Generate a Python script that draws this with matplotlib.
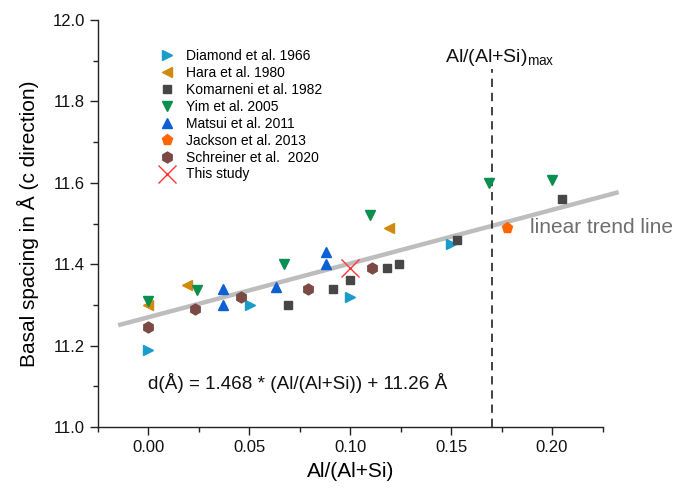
import matplotlib
matplotlib.use("Agg")
import matplotlib.pyplot as plt
from matplotlib.ticker import MultipleLocator

plt.rcParams['font.family'] = ['Liberation Sans', 'DejaVu Sans']

# ---- data ----
diamond_x = [0.0, 0.0505, 0.100, 0.150]
diamond_y = [11.19, 11.30, 11.32, 11.45]

hara_x = [0.0, 0.019, 0.119]
hara_y = [11.30, 11.35, 11.49]

komarneni_x = [0.069, 0.0915, 0.100, 0.118, 0.124, 0.153, 0.205]
komarneni_y = [11.30, 11.34, 11.36, 11.39, 11.40, 11.46, 11.56]

yim_x = [0.0, 0.024, 0.067, 0.110, 0.169, 0.200]
yim_y = [11.31, 11.337, 11.40, 11.52, 11.60, 11.607]

matsui_x = [0.037, 0.037, 0.063, 0.088, 0.088]
matsui_y = [11.34, 11.30, 11.344, 11.43, 11.40]

jackson_x = [0.1775]
jackson_y = [11.49]

schreiner_x = [0.0, 0.023, 0.046, 0.079, 0.111]
schreiner_y = [11.245, 11.29, 11.32, 11.34, 11.39]

study_x = [0.100]
study_y = [11.39]

trend_x = [-0.015, 0.233]
trend_y = [11.25, 11.577]

al_max = 0.17

x_ticks = [0.00, 0.05, 0.10, 0.15, 0.20]
y_ticks = [11.0, 11.2, 11.4, 11.6, 11.8, 12.0]

# ---- figure ----
fig = plt.figure(figsize=(6.88, 4.90), dpi=100)
ax = fig.add_axes([98/688, 1-427/490, 504.5/688, 407/490])

ax.plot(trend_x, trend_y, color='#bdbdbd', lw=3.2, solid_capstyle='butt', zorder=1, clip_on=False)
ax.plot([al_max, al_max], [11.0, 11.88], color='#222222', lw=1.2, ls=(0, (5, 3.5)), zorder=1)

ms_tri = 7.8
h = []
h.append(ax.plot(diamond_x, diamond_y, ls='none', marker='>', ms=ms_tri, color='#1a9ccb', label='Diamond et al. 1966', zorder=3)[0])
h.append(ax.plot(hara_x, hara_y, ls='none', marker='<', ms=ms_tri, color='#d18b0c', label='Hara et al. 1980', zorder=3)[0])
h.append(ax.plot(komarneni_x, komarneni_y, ls='none', marker='s', ms=6.3, color='#474747', label='Komarneni et al. 1982', zorder=3)[0])
h.append(ax.plot(yim_x, yim_y, ls='none', marker='v', ms=ms_tri, color='#0b8f4e', label='Yim et al. 2005', zorder=3)[0])
h.append(ax.plot(matsui_x, matsui_y, ls='none', marker='^', ms=ms_tri, color='#0d5fd4', label='Matsui et al. 2011', zorder=3)[0])
h.append(ax.plot(jackson_x, jackson_y, ls='none', marker='p', ms=8, color='#ff6600', label='Jackson et al. 2013', zorder=3)[0])
h.append(ax.plot(schreiner_x, schreiner_y, ls='none', marker='h', ms=7.8, color='#7b4a45', label='Schreiner et al.  2020', zorder=3)[0])
h.append(ax.plot(study_x, study_y, ls='none', marker='x', ms=13, mew=1.0, color='#ff3535', label='This study', zorder=4)[0])

ax.set_xlim(-0.025, 0.225)
ax.set_ylim(11.0, 12.0)
ax.set_xticks(x_ticks)
ax.set_xticklabels([f"{v:.2f}" for v in x_ticks])
ax.set_yticks(y_ticks)
ax.set_yticklabels([f"{v:.1f}" for v in y_ticks])
ax.xaxis.set_minor_locator(MultipleLocator(0.025))
ax.yaxis.set_minor_locator(MultipleLocator(0.1))
ax.tick_params(which='major', length=6, width=1, labelsize=12, color='#222222', labelcolor='#111111')
ax.tick_params(which='minor', length=3.5, width=1, color='#222222')
for s in ['top', 'right']:
    ax.spines[s].set_visible(False)
for s in ['left', 'bottom']:
    ax.spines[s].set_color('#222222')
    ax.spines[s].set_linewidth(1.0)

ax.set_xlabel('Al/(Al+Si)', fontsize=15, labelpad=5)
ax.set_ylabel('Basal spacing in Å (c direction)', fontsize=15, labelpad=10)

ax.text(0.0, 11.108, 'd(Å) = 1.468 * (Al/(Al+Si)) + 11.26 Å', fontsize=13.6, ha='left', va='center', color='#111111')
ax.text(0.189, 11.489, 'linear trend line', fontsize=15, ha='left', va='center', color='#6e6e6e')
ax.text(0.147, 11.907, r'Al/(Al+Si)$_{\mathregular{max}}$', fontsize=14, ha='left', va='center', color='#111111')

leg = ax.legend(handles=h, loc='upper left', bbox_to_anchor=(160/688, 1-49/490),
                bbox_transform=fig.transFigure, frameon=False, fontsize=10,
                handlelength=1.0, handletextpad=0.9, labelspacing=0.21,
                borderpad=0, borderaxespad=0, numpoints=1)

fig.savefig('out.png', dpi=100)
